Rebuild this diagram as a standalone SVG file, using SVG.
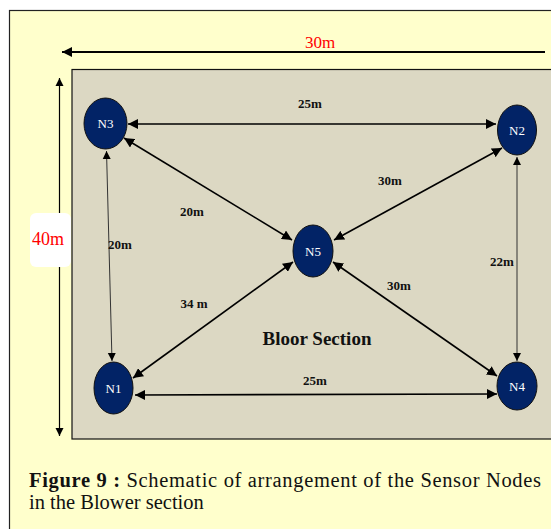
<svg xmlns="http://www.w3.org/2000/svg" width="551" height="529" viewBox="0 0 551 529">
<defs>
<marker id="ah" viewBox="0 0 10 10" refX="10" refY="5" markerWidth="10" markerHeight="10" markerUnits="userSpaceOnUse" orient="auto-start-reverse"><path d="M0,0 L10,5 L0,10 z" fill="#000"/></marker>
<marker id="ahs" viewBox="0 0 10 10" refX="10" refY="5" markerWidth="8" markerHeight="10" markerUnits="userSpaceOnUse" orient="auto-start-reverse"><path d="M0,0 L10,5 L0,10 z" fill="#000"/></marker>
</defs>
<style>
.node{fill:#022366;stroke:#111;stroke-width:1}
.nl{font-family:'Liberation Serif',serif;font-size:13px;fill:#fff;text-anchor:middle}
.lbl{font-family:'Liberation Serif',serif;font-size:13px;font-weight:bold;fill:#111;text-anchor:middle}
.c{stroke:#000;stroke-width:1.6;fill:none;marker-start:url(#ah);marker-end:url(#ah)}
.ct{stroke:#333;stroke-width:1;fill:none;marker-start:url(#ahs);marker-end:url(#ahs)}
.red{font-family:'Liberation Serif',serif;font-size:17px;fill:#ff0000;text-anchor:middle}
.cap{font-family:'Liberation Serif',serif;font-size:20.5px;fill:#111}
</style>
<rect x="0" y="0" width="551" height="529" fill="#fff"/>
<rect x="9.5" y="10.5" width="560" height="540" fill="#ffffcc" stroke="#222" stroke-width="1.2"/>
<rect x="72" y="69.5" width="490" height="369.5" fill="#dcd8c3" stroke="#111" stroke-width="1.2"/>
<g id="dims">
<line x1="545" y1="52" x2="62" y2="52" stroke="#000" stroke-width="2" marker-end="url(#ah)"/>
<text class="red" x="320" y="48">30m</text>
<line x1="59.5" y1="78" x2="59.5" y2="436" stroke="#000" stroke-width="1.2" marker-start="url(#ahs)" marker-end="url(#ahs)"/>
<rect x="30" y="213" width="41" height="54" rx="6" fill="#fff"/>
<text class="red" x="48" y="245" style="font-size:18px">40m</text>
</g>
<g id="connectors">
<line class="c" x1="128" y1="124" x2="496" y2="124"/>
<line class="c" x1="124" y1="138" x2="292" y2="240"/>
<line class="c" x1="502" y1="148" x2="334" y2="240"/>
<line class="ct" x1="106.5" y1="151" x2="112" y2="361"/>
<line class="ct" x1="517" y1="157" x2="517" y2="361"/>
<line class="c" x1="133" y1="378" x2="293" y2="262"/>
<line class="c" x1="333" y1="262" x2="497" y2="376"/>
<line class="c" x1="135" y1="395" x2="497" y2="394"/>
<text class="lbl" x="310" y="108">25m</text>
<text class="lbl" x="192" y="216">20m</text>
<text class="lbl" x="390" y="185">30m</text>
<text class="lbl" x="120" y="249">20m</text>
<text class="lbl" x="502" y="266">22m</text>
<text class="lbl" x="194" y="308">34 m</text>
<text class="lbl" x="399" y="290">30m</text>
<text class="lbl" x="315" y="385">25m</text>
</g>
<g id="N3"><ellipse class="node" cx="105.5" cy="123.5" rx="21.5" ry="25.5"/><text class="nl" x="105.5" y="128">N3</text></g>
<g id="N2"><ellipse class="node" cx="517" cy="130" rx="19.5" ry="25"/><text class="nl" x="517" y="135">N2</text></g>
<g id="N5"><ellipse class="node" cx="313" cy="251" rx="20" ry="26"/><text class="nl" x="313" y="256">N5</text></g>
<g id="N1"><ellipse class="node" cx="113.5" cy="388" rx="19.5" ry="26"/><text class="nl" x="113.5" y="393">N1</text></g>
<g id="N4"><ellipse class="node" cx="517" cy="386" rx="20" ry="24"/><text class="nl" x="517" y="391">N4</text></g>
<text x="317" y="345" style="font-family:'Liberation Serif',serif;font-size:19px;font-weight:bold;fill:#111;text-anchor:middle">Bloor Section</text>
<text class="cap" x="29" y="487" textLength="512" lengthAdjust="spacing"><tspan font-weight="bold">Figure 9 :</tspan> Schematic of arrangement of the Sensor Nodes</text>
<text class="cap" x="29" y="509">in the Blower section</text>
</svg>
